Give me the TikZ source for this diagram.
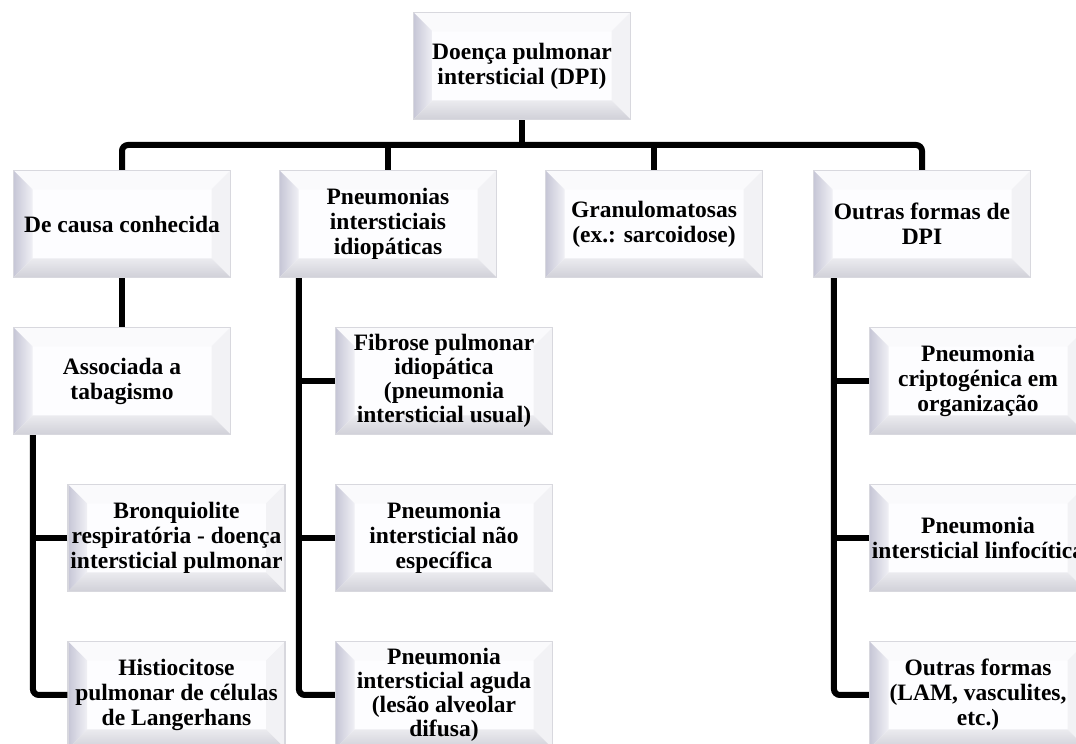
\documentclass[tikz,border=0pt]{standalone}
\usepackage{fontspec}
\setmainfont{Liberation Serif}
\usetikzlibrary{calc}

\definecolor{bvface}{HTML}{FDFDFF}
\definecolor{bvtop}{HTML}{FAFAFC}
\definecolor{bvright}{HTML}{F2F2F5}
\definecolor{bvleftout}{HTML}{C6C6D6}
\definecolor{bvleftin}{HTML}{F0F0F5}
\definecolor{bvbotout}{HTML}{D0D0D8}
\definecolor{bvbotin}{HTML}{EBEBEF}
\definecolor{bvedge}{HTML}{D8D8DE}

\tikzset{
  bevelbox/.style={
    minimum width=217pt, minimum height=107pt, inner sep=0pt,
    align=center, font=\fontsize{23.5}{25}\selectfont\bfseries,
    draw=bvedge, line width=1.2pt, fill=bvface,
    path picture={
      \coordinate (bsw) at (path picture bounding box.south west);
      \coordinate (bne) at (path picture bounding box.north east);
      \coordinate (bnw) at (bsw |- bne);
      \coordinate (bse) at (bne |- bsw);
      \coordinate (isw) at ($(bsw)+(19pt,19pt)$);
      \coordinate (ine) at ($(bne)+(-19pt,-19pt)$);
      \coordinate (inw) at (isw |- ine);
      \coordinate (ise) at (ine |- isw);
      % top and right bevels: lit faces
      \fill[bvtop] (bnw) -- (bne) -- (ine) -- (inw) -- cycle;
      \fill[bvright] (bne) -- (bse) -- (ise) -- (ine) -- cycle;
      % left and bottom bevels: shaded faces
      \shade[left color=bvleftout, right color=bvleftin]
        (bsw) -- (bnw) -- (inw) -- (isw) -- cycle;
      \shade[bottom color=bvbotout, top color=bvbotin]
        (bsw) -- (isw) -- (ise) -- (bse) -- cycle;
    }},
  fourline/.style={font=\fontsize{23.5}{24}\selectfont\bfseries},
  conn/.style={line width=6pt, black, rounded corners=6pt}
}

\begin{document}
\begin{tikzpicture}[x=1pt, y=1pt]
  \useasboundingbox (0,0) rectangle (1076,744);
  \clip (0,0) rectangle (1076,744);

  % root
  \node[bevelbox] (root) at (522,678) {Doença pulmonar\\intersticial (DPI)};

  % first level
  \node[bevelbox] (dc) at (122,520) {De causa conhecida};
  \node[bevelbox] (pi) at (388,520) {Pneumonias\\intersticiais\\idiopáticas};
  \node[bevelbox] (gr) at (654,520) {Granulomatosas\\(ex.: sarcoidose)};
  \node[bevelbox] (of) at (922,520) {Outras formas de\\DPI};

  % known causes
  \node[bevelbox] (as) at (122,363) {Associada a\\tabagismo};
  \node[bevelbox] (br) at (176.5,206) {Bronquiolite\\respiratória - doença\\intersticial pulmonar};
  \node[bevelbox] (hi) at (176.5,49) {Histiocitose\\pulmonar de células\\de Langerhans};

  % idiopathic interstitial pneumonias
  \node[bevelbox, fourline] (fp) at (444,363) {Fibrose pulmonar\\idiopática\\(pneumonia\\intersticial usual)};
  \node[bevelbox] (pn) at (444,206) {Pneumonia\\intersticial não\\específica};
  \node[bevelbox, fourline] (pa) at (444,49) {Pneumonia\\intersticial aguda\\(lesão alveolar\\difusa)};

  % other forms
  \node[bevelbox] (pc) at (978,363) {Pneumonia\\criptogénica em\\organização};
  \node[bevelbox] (pl) at (978,206) {Pneumonia\\intersticial linfocítica};
  \node[bevelbox] (ot) at (978,49) {Outras formas\\(LAM, vasculites,\\etc.)};

  % top-level bus
  \coordinate (bus) at (522,599);
  \draw[conn] (root.south) -- (bus);
  \draw[conn] (dc.north) |- (bus) -| (of.north);
  \draw[conn] (pi.north) -- (pi.north |- bus);
  \draw[conn] (gr.north) -- (gr.north |- bus);

  % known causes branch
  \draw[conn] (dc.south) -- (as.north);
  \coordinate (t1) at ([xshift=20pt]as.south west);
  \draw[conn] (br.west) -- (br.west -| t1);
  \draw[conn] (t1) |- (hi.west);

  % idiopathic branch
  \coordinate (t2) at ([xshift=20pt]pi.south west);
  \draw[conn] (fp.west) -- (fp.west -| t2);
  \draw[conn] (pn.west) -- (pn.west -| t2);
  \draw[conn] (t2) |- (pa.west);

  % other forms branch
  \coordinate (t4) at ([xshift=21pt]of.south west);
  \draw[conn] (pc.west) -- (pc.west -| t4);
  \draw[conn] (pl.west) -- (pl.west -| t4);
  \draw[conn] (t4) |- (ot.west);
\end{tikzpicture}
\end{document}
